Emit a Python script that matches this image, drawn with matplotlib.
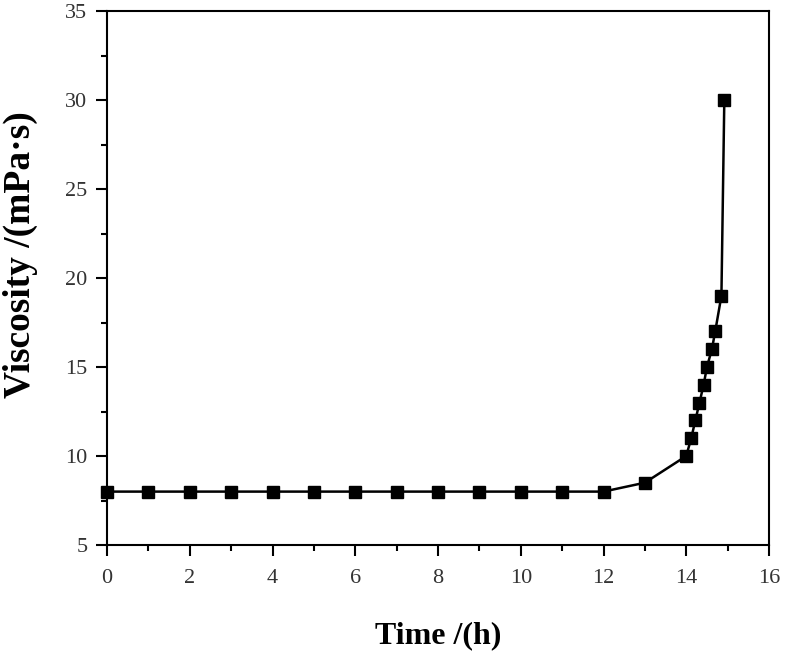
import matplotlib
matplotlib.use("Agg")
import matplotlib.pyplot as plt
from matplotlib.ticker import MultipleLocator

time_h = [0, 1, 2, 3, 4, 5, 6, 7, 8, 9, 10, 11, 12, 13, 14,
          14.12, 14.22, 14.32, 14.42, 14.5, 14.62, 14.7, 14.85, 14.92]
viscosity = [8, 8, 8, 8, 8, 8, 8, 8, 8, 8, 8, 8, 8, 8.5, 10,
             11, 12, 13, 14, 15, 16, 17, 19, 30]
x_ticks = [0, 2, 4, 6, 8, 10, 12, 14, 16]
y_ticks = [5, 10, 15, 20, 25, 30, 35]

fig = plt.figure(figsize=(7.86, 6.58), dpi=100)
ax = fig.add_axes([107/786, 1 - 545/658, (769 - 107)/786, (545 - 11)/658])

ax.plot(time_h, viscosity, color='black', lw=1.8, marker='s', ms=8,
        markerfacecolor='black', markeredgecolor='black', clip_on=False, zorder=3)

ax.set_xlim(0, 16)
ax.set_ylim(5, 35)
ax.set_xticks(x_ticks)
ax.set_yticks(y_ticks)
ax.xaxis.set_minor_locator(MultipleLocator(1))
ax.yaxis.set_minor_locator(MultipleLocator(2.5))
ax.tick_params(axis='x', which='major', pad=9)
ax.tick_params(axis='y', which='major', pad=6)
ax.tick_params(which='major', direction='out', length=8, width=1.5,
               labelsize=16, labelcolor='#333333')
ax.tick_params(which='minor', direction='out', length=4, width=1.5)
ax.tick_params(top=False, right=False, which='both')
for lbl in ax.get_xticklabels() + ax.get_yticklabels():
    lbl.set_fontfamily('Liberation Serif')
for s in ax.spines.values():
    s.set_linewidth(1.5)

fig.text(438/786, 1 - 636/658, 'Time /(h)', ha='center', va='center',
         fontsize=23, fontweight='bold', family='Liberation Serif')
fig.text(20/786, 1 - 255/658, 'Viscosity /(mPa·s)', ha='center', va='center',
         rotation=90, fontsize=27, fontweight='bold', family='Liberation Serif')

fig.savefig('out.png', dpi=100)
